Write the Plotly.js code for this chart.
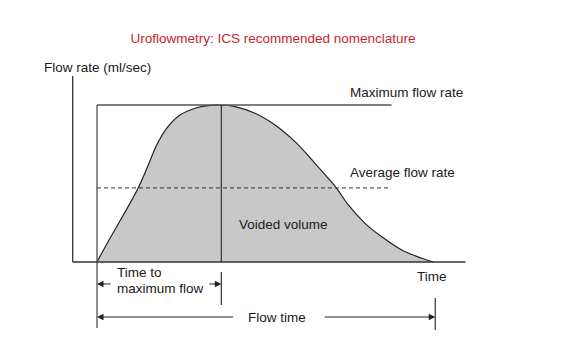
<!DOCTYPE html>
<html>
<head>
<meta charset="utf-8">
<script src="https://cdn.plot.ly/plotly-3.0.1.min.js"></script>
<style>html,body{margin:0;padding:0;background:#fff;}#chart{width:585px;height:351px;}</style>
</head>
<body>
<div id="chart"></div>
<script>
// Flow curve (time in s, flow in ml/s)
const time = [0, 1.16, 2.35, 3.69, 4.58, 5.33, 6.22, 7.41, 8.9, 10.09, 11.1, 12.32, 14.11, 15.89, 17.68, 19.46, 20.65, 21.4, 22.44, 23.93, 25.42, 27.21, 29.0, 30.0];
const flow = [0, 3.77, 7.48, 11.83, 15.45, 18.63, 21.29, 23.41, 24.57, 24.95, 25, 24.73, 23.68, 21.82, 19.16, 15.72, 13.33, 11.74, 9.08, 6.16, 4.03, 1.91, 0.59, 0];
const qMax = 25;      // maximum flow rate
const qAvg = 11.8;    // average flow rate
const tMax = 11.1;    // time to maximum flow
const tEnd = 30.2;    // flow time end marker

const labels = {
  title: "Uroflowmetry: ICS recommended nomenclature",
  yTitle: "Flow rate (ml/sec)",
  xTitle: "Time",
  maxRate: "Maximum flow rate",
  avgRate: "Average flow rate",
  volume: "Voided volume",
  ttm1: "Time to",
  ttm2: "maximum flow",
  flowTime: "Flow time"
};

const W = 585, H = 351;
const px = x => x / W;
const py = y => 1 - y / H;
const FONT = "Liberation Sans, Arial, sans-serif";
const FS = 13.5;

const trace = {
  x: time, y: flow, type: 'scatter', mode: 'lines',
  line: {color: '#222', width: 1.2, shape: 'spline', smoothing: 1},
  fill: 'tozeroy', fillcolor: '#c8c8c8', hoverinfo: 'skip'
};

function seg(x0, y0, x1, y1, color, width, dash) {
  return {type: 'line', xref: 'x', yref: 'y', x0, y0, x1, y1,
          line: {color: color || '#333', width: width || 1.3, dash: dash || 'solid'}};
}

const axX0 = -2.17;
const shapes = [
  seg(axX0, 0, axX0, 29.6, '#333', 1.3),
  seg(axX0, 0, 32.9, 0, '#333', 1.3),
  seg(0, qMax, 26.3, qMax, '#555', 1.5),
  seg(0, qAvg, 26.0, qAvg, '#333', 1, '4px,3px'),
  seg(0, qMax, 0, -10.5, '#444', 1.2),
  seg(tMax, qMax, tMax, 0, '#333', 1.2),
  seg(tMax, -1.6, tMax, -6.85, '#333', 1.2),
  seg(tEnd, -5.73, tEnd, -10.83, '#333', 1.2)
];

function arrow(xHead, yHead, xTail) {
  return {x: xHead, y: yHead, ax: xTail, ay: yHead, xref: 'x', yref: 'y', axref: 'x', ayref: 'y',
          text: ' ', font: {size: 1}, showarrow: true, arrowhead: 2, arrowsize: 1.3, arrowwidth: 1,
          arrowcolor: '#222', standoff: 0, startstandoff: 0};
}

function txt(text, x, y, anchor) {
  return {text, xref: 'paper', yref: 'paper', x: px(x - 2), y: py(y), xanchor: anchor || 'left',
          yanchor: 'middle', showarrow: false, font: {family: FONT, size: FS, color: '#1a1a1a'}};
}

const annotations = [
  txt(labels.yTitle, 44, 67),
  txt(labels.maxRate, 350, 93),
  txt(labels.avgRate, 350, 173),
  txt(labels.volume, 239, 224),
  txt(labels.ttm1, 117, 272),
  txt(labels.ttm2, 117, 288),
  txt(labels.xTitle, 417, 276),
  txt(labels.flowTime, 248, 317),
  arrow(0, -3.5, 1.34),
  arrow(tMax, -3.5, 9.9),
  arrow(0, -8.76, 12.3),
  arrow(tEnd, -8.76, 20.2)
];

const layout = {
  width: W, height: H,
  margin: {l: 0, r: 0, t: 0, b: 0},
  paper_bgcolor: '#fff', plot_bgcolor: '#fff',
  showlegend: false,
  title: {text: labels.title, x: px(273), xanchor: 'center', y: py(38), yanchor: 'middle',
          font: {family: FONT, size: FS, color: '#c4262e'}},
  xaxis: {range: [-97 / 11.2, (W - 97) / 11.2], visible: false, fixedrange: true},
  yaxis: {range: [-(H - 262) / 6.28, 262 / 6.28], visible: false, fixedrange: true},
  shapes, annotations
};

Plotly.newPlot('chart', [trace], layout, {staticPlot: true, displayModeBar: false});
</script>
</body>
</html>
